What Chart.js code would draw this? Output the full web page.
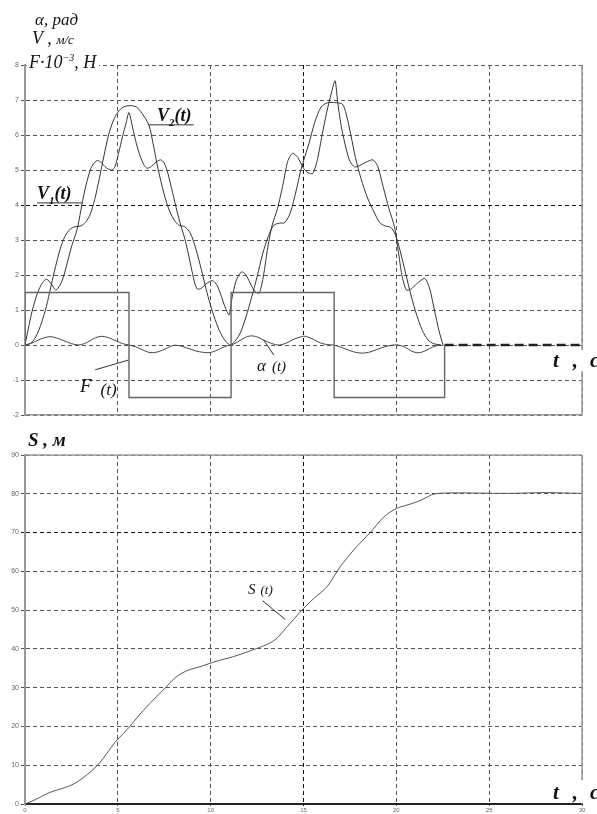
<!DOCTYPE html>
<html>
<head>
<meta charset="utf-8">
<script src="https://cdn.jsdelivr.net/npm/chart.js@4.4.1/dist/chart.umd.min.js"></script>
<style>
body{margin:0;background:#fff;}
#wrap{position:relative;width:597px;height:814px;overflow:hidden;background:#fff;}
canvas{position:absolute;left:0;}
.lb{position:absolute;font-family:"Liberation Serif","DejaVu Serif",serif;font-style:italic;color:#111;line-height:1;white-space:nowrap;}
.b{font-weight:bold;}
</style>
</head>
<body>
<div id="wrap">
<canvas id="top" width="597" height="430" style="top:0"></canvas>
<canvas id="bot" width="597" height="384" style="top:430px"></canvas>

<div class="lb" style="left:35px;top:11px;font-size:17px">α, рад</div>
<div class="lb" style="left:32px;top:29px;font-size:18px">V , <span style="font-size:13px">м/с</span></div>
<div class="lb" style="left:27px;top:53px;font-size:18px;background:#fff;padding:0 3px 0 2px">F·10<span style="font-size:10px;vertical-align:7px">−3</span>, Н</div>
<div class="lb b" style="left:157px;top:106px;font-size:18px">V<sub style="font-size:11px">2</sub>(t)</div>
<div class="lb b" style="left:37px;top:184px;font-size:18px">V<sub style="font-size:11px">1</sub>(t)</div>
<div class="lb" style="left:80px;top:376px;font-size:19px">F<span style="margin-left:9px;font-size:17px;position:relative;top:3px">(t)</span></div>
<div class="lb" style="left:257px;top:357px;font-size:17px">α<span style="margin-left:6px;font-size:15px">(t)</span></div>
<div class="lb b" style="left:553px;top:350px;font-size:21px;background:#fff">t<span style="margin-left:14px">,</span><span style="margin-left:12px">с</span></div>

<div class="lb b" style="left:28px;top:430px;font-size:19px">S , м</div>
<div class="lb" style="left:248px;top:582px;font-size:15px">S<span style="margin-left:5px;font-size:13px">(t)</span></div>
<div class="lb b" style="left:553px;top:780px;font-size:21px;background:#fff;padding-top:2px">t<span style="margin-left:14px">,</span><span style="margin-left:12px">с</span></div>
</div>

<script>
// force F(t)
var tF = [0, 0, 5.6, 11.1, 16.65, 22.6, 30];
var vF = [0, 1.5, -1.5, 1.5, -1.5, 0, 0];

// V1(t) - cart velocity
var tV1 = [0,0.15,0.3,0.45,0.65,0.85,1.0,1.17,1.4,1.66,1.9,2.1,2.3,2.5,2.7,2.85,3.06,3.3,3.55,3.75,3.91,4.1,4.3,4.5,4.68,4.85,5.05,5.25,5.45,5.6,
  5.8,6.0,6.2,6.4,6.58,6.8,7.0,7.3,7.5,7.7,7.95,8.2,8.4,8.6,8.8,9.0,9.15,9.28,9.5,9.75,10.1,10.35,10.6,10.8,11.0,
  11.15,11.35,11.55,11.71,11.9,12.1,12.35,12.61,12.85,13.05,13.3,13.6,13.9,14.15,14.41,14.7,15.0,15.25,15.5,15.75,16.0,16.25,16.5,16.7,
  16.85,17.05,17.3,17.5,17.75,18.0,18.35,18.74,19.0,19.3,19.6,19.9,20.1,20.3,20.54,20.8,21.1,21.53,21.8,22.05,22.3,22.52];
var vV1 = [0,0.4,0.78,1.1,1.45,1.7,1.82,1.88,1.76,1.57,1.72,2.0,2.4,2.8,3.12,3.4,4.0,4.6,5.05,5.22,5.27,5.22,5.1,5.02,5.0,5.1,5.5,5.95,6.35,6.64,
  6.2,5.75,5.4,5.15,5.05,5.1,5.2,5.29,5.2,4.9,4.35,3.8,3.4,3.05,2.6,2.1,1.75,1.6,1.62,1.75,1.84,1.7,1.35,1.05,0.86,
  1.35,1.8,2.03,2.09,2.0,1.8,1.55,1.48,2.0,2.7,3.4,3.9,4.6,5.25,5.48,5.35,5.05,4.92,4.9,5.3,6.0,6.65,7.2,7.55,
  6.9,6.2,5.6,5.25,5.09,5.12,5.22,5.29,5.1,4.5,3.9,3.38,2.7,2.0,1.57,1.6,1.75,1.9,1.6,1.0,0.4,0];

// V2(t) - load velocity
var tV2 = [0,0.3,0.6,0.9,1.15,1.4,1.65,1.9,2.15,2.45,2.7,3.0,3.25,3.5,3.75,4.0,4.25,4.5,4.75,5.0,5.3,5.65,6.0,6.3,6.67,6.9,7.1,7.4,7.7,8.0,
  8.3,8.6,8.9,9.2,9.5,9.8,10.1,10.4,10.7,10.95,11.05,
  11.3,11.6,11.9,12.2,12.5,12.8,13.1,13.4,13.7,14.0,14.3,14.6,14.86,15.3,15.6,15.95,16.3,16.8,17.1,17.3,
  17.55,17.8,18.1,18.45,18.8,19.1,19.4,19.7,19.95,20.2,20.5,20.8,21.1,21.4,21.7,22.0,22.4];
var vV2 = [0,0.05,0.25,0.65,1.1,1.68,2.25,2.75,3.1,3.32,3.38,3.4,3.5,3.72,4.15,4.75,5.4,6.0,6.4,6.65,6.8,6.84,6.8,6.62,6.29,5.75,5.2,4.5,3.95,3.6,
  3.42,3.38,3.2,2.75,2.15,1.5,0.95,0.5,0.18,0.03,0,
  0.1,0.35,0.8,1.35,1.95,2.6,3.1,3.42,3.48,3.5,3.8,4.4,5.0,5.77,6.35,6.8,6.92,6.92,6.88,6.6,
  6.0,5.35,4.75,4.2,3.8,3.5,3.4,3.36,3.15,2.7,2.05,1.4,0.85,0.42,0.15,0.04,0];

// alpha(t) - rope angle
var tA = [0,0.35,0.7,1.0,1.35,1.7,2.1,2.5,2.88,3.2,3.5,3.8,4.14,4.5,4.9,5.25,5.6,5.95,6.3,6.6,6.85,7.2,7.6,8.0,8.3,8.7,9.2,9.6,9.91,10.25,10.6,10.9,11.1,
  11.4,11.8,12.15,12.5,12.9,13.3,13.7,14.1,14.5,14.9,15.1,15.5,15.9,16.3,16.6,17.0,17.5,17.9,18.3,18.7,19.2,19.7,20.1,20.5,20.8,21.1,21.4,21.8,22.1,22.4];
var vA = [0,0.05,0.14,0.2,0.24,0.2,0.12,0.04,0,0.04,0.12,0.21,0.25,0.21,0.12,0.04,0,-0.05,-0.13,-0.2,-0.22,-0.19,-0.1,-0.01,-0.02,-0.08,-0.17,-0.21,-0.22,-0.17,-0.08,-0.02,0,
  0.07,0.2,0.26,0.23,0.13,0.04,0,0.06,0.17,0.24,0.25,0.17,0.06,0.01,0,-0.06,-0.16,-0.22,-0.23,-0.18,-0.08,-0.01,0,-0.07,-0.17,-0.22,-0.2,-0.1,-0.03,0];

// S(t) - path
var tS = [0,0.43,1.35,2.0,2.6,3.14,3.6,4.04,4.4,4.85,5.3,5.63,6.2,6.9,7.61,8.0,8.43,8.9,9.42,10.3,
  11.22,12.48,13.1,13.56,13.9,14.28,15.0,15.6,16.26,16.98,17.7,18.6,19.32,20.0,20.5,21.1,21.6,22.0,22.75,24,26,28,30];
var vS = [0,0.86,3.0,4.0,5.1,6.8,8.6,10.7,13.0,15.9,18.2,19.9,23.2,26.8,30.2,32.2,33.7,34.7,35.4,36.8,
  38.0,40.1,41.3,42.7,44.5,46.6,50.4,53.2,56.0,61.2,65.5,70.0,74.0,76.2,77.0,77.9,79.0,79.9,80.2,80.2,80.1,80.3,80.1];

var topTicks = [-2,-1,0,1,2,3,4,5,6,7,8];
var botTicks = [0,10,20,30,40,50,60,70,80,90];
var tTicks = [0,5,10,15,20,25,30];

function pts(xs, ys){ return xs.map(function(x,i){ return {x:x, y:ys[i]}; }); }

// right/top frame and label leader lines
var frame = {
  id:'frame',
  afterDraw: function(chart, args, o){
    var ctx = chart.ctx, a = chart.chartArea;
    ctx.save();
    ctx.strokeStyle = '#9a9a9a';
    ctx.lineWidth = 1.5;
    ctx.beginPath();
    ctx.moveTo(a.right, a.top); ctx.lineTo(a.right, a.bottom);
    if (o.top) { ctx.moveTo(a.left, a.top); ctx.lineTo(a.right, a.top); }
    ctx.stroke();
    var xs = chart.scales.x, ys = chart.scales.y;
    ctx.strokeStyle = '#333';
    ctx.lineWidth = 1;
    (o.leaders || []).forEach(function(l){
      ctx.beginPath();
      ctx.moveTo(xs.getPixelForValue(l[0][0]), ys.getPixelForValue(l[0][1]));
      ctx.lineTo(xs.getPixelForValue(l[1][0]), ys.getPixelForValue(l[1][1]));
      ctx.stroke();
    });
    ctx.restore();
  }
};

function gridColor(dark){
  return function(c){ return (c.tick && c.tick.value === dark) ? '#111' : '#555'; };
}
var tickFont = {family:'Liberation Sans', size:7};

new Chart(document.getElementById('top'), {
  type:'line',
  data:{
    datasets:[
      {
        label:'F(t)',
        data:pts(tF, vF),
        stepped:true,
        borderColor:'#666',
        borderWidth:1.4,
        pointRadius:0,
        segment:{
          borderDash: function(c){ return c.p0.parsed.x >= 22.5 ? [9,5] : undefined; },
          borderWidth: function(c){ return c.p0.parsed.x >= 22.5 ? 2.4 : undefined; },
          borderColor: function(c){ return c.p0.parsed.x >= 22.5 ? '#222' : undefined; }
        }
      },
      {label:'α(t)', data:pts(tA, vA), borderColor:'#444', borderWidth:1, pointRadius:0, tension:0.3},
      {label:'V2(t)', data:pts(tV2, vV2), borderColor:'#333', borderWidth:1, pointRadius:0, tension:0.3},
      {label:'V1(t)', data:pts(tV1, vV1), borderColor:'#333', borderWidth:1, pointRadius:0, tension:0.25}
    ]
  },
  options:{
    responsive:false,
    animation:false,
    events:[],
    layout:{padding:{top:65, right:15, bottom:15, left:0}},
    plugins:{
      legend:{display:false},
      tooltip:{enabled:false},
      frame:{top:false, leaders:[
        [[6.65,6.29],[9.08,6.29]],
        [[0.65,4.06],[3.08,4.06]],
        [[3.78,-0.71],[5.57,-0.43]],
        [[12.86,0.14],[13.4,-0.29]]
      ]}
    },
    scales:{
      x:{
        type:'linear', min:0, max:30,
        afterBuildTicks: function(s){ s.ticks = tTicks.map(function(v){ return {value:v}; }); },
        ticks:{display:false},
        grid:{color:gridColor(15), drawTicks:false},
        border:{color:'#9a9a9a', width:1.5, dash:[4,3]},
        afterFit: function(s){ s.height = 0; }
      },
      y:{
        min:-2, max:8,
        afterBuildTicks: function(s){ s.ticks = topTicks.map(function(v){ return {value:v}; }); },
        ticks:{font:tickFont, color:'#666', padding:2},
        grid:{color:gridColor(4), tickLength:4},
        border:{color:'#9a9a9a', width:2, dash:[4,3]},
        afterFit: function(s){ s.width = 25; }
      }
    }
  },
  plugins:[frame]
});

new Chart(document.getElementById('bot'), {
  type:'line',
  data:{
    datasets:[
      {label:'S(t)', data:pts(tS, vS), borderColor:'#555', borderWidth:1, pointRadius:0, tension:0.3}
    ]
  },
  options:{
    responsive:false,
    animation:false,
    events:[],
    layout:{padding:{top:25, right:15, bottom:0, left:0}},
    plugins:{
      legend:{display:false},
      tooltip:{enabled:false},
      frame:{top:true, leaders:[ [[12.8,52.4],[14.01,47.6]] ]}
    },
    scales:{
      x:{
        type:'linear', min:0, max:30,
        afterBuildTicks: function(s){ s.ticks = tTicks.map(function(v){ return {value:v}; }); },
        ticks:{font:{family:'Liberation Sans', size:6}, color:'#666', padding:1, maxRotation:0},
        grid:{color:gridColor(15), tickLength:2},
        border:{color:'#222', width:2, dash:[4,3]},
        afterFit: function(s){ s.height = 10; }
      },
      y:{
        min:0, max:90,
        afterBuildTicks: function(s){ s.ticks = botTicks.map(function(v){ return {value:v}; }); },
        ticks:{font:tickFont, color:'#666', padding:2},
        grid:{color:gridColor(70), tickLength:4},
        border:{color:'#9a9a9a', width:2, dash:[4,3]},
        afterFit: function(s){ s.width = 25; }
      }
    }
  },
  plugins:[frame]
});
</script>
</body>
</html>
